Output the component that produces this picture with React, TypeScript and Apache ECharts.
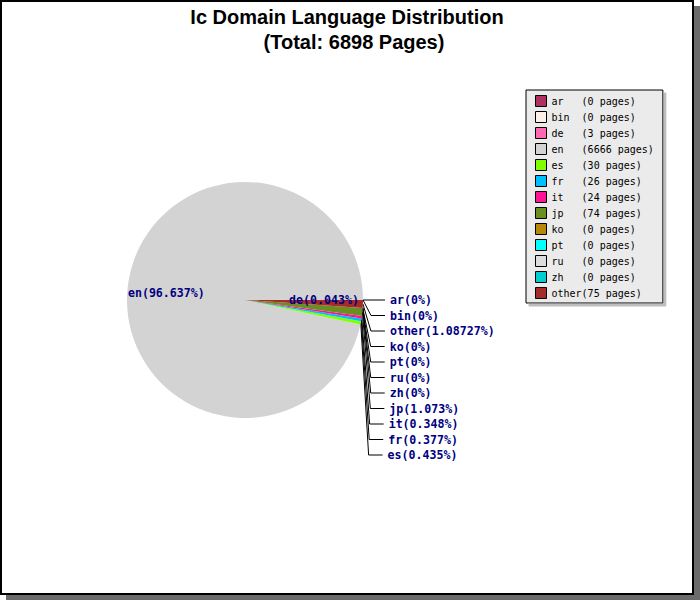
import React, { useEffect, useRef } from "react";
import * as echarts from "echarts";

const categories = ["ar", "bin", "de", "en", "es", "fr", "it", "jp", "ko", "pt", "ru", "zh", "other"];
const pages = [0, 0, 3, 6666, 30, 26, 24, 74, 0, 0, 0, 0, 75];
const percentLabels = ["0", "0", "0.043", "96.637", "0.435", "0.377", "0.348", "1.073", "0", "0", "0", "0", "1.08727"];
const colors = [
  "#b03060", "#fdf0e6", "#ff69b4", "#d3d3d3", "#7fff00", "#00bfff", "#ff1493",
  "#6b8e23", "#b8860b", "#00ffff", "#dcdcdc", "#00ced1", "#a52a2a",
];
const titleLine1 = "Ic Domain Language Distribution";
const titleLine2 = "(Total: 6898 Pages)";
const insideLabels = ["de", "en"];

export default function App() {
  const ref = useRef<HTMLDivElement>(null);
  useEffect(() => {
    document.body.style.margin = "0";
    const chart = echarts.init(ref.current!, null, { renderer: "svg" });
    const data = categories.map((name, i) => {
      const inside = insideLabels.includes(name);
      return {
        name,
        value: pages[i],
        itemStyle: { color: colors[i] },
        label: inside ? { position: "inside" } : undefined,
        labelLine: inside ? { show: false } : undefined,
      };
    });
    chart.setOption({
      animation: false,
      backgroundColor: "transparent",
      graphic: [
        { type: "rect", z: -10, shape: { x: 6, y: 6, width: 694, height: 594 }, style: { fill: "#6b6b6b" }, silent: true },
        { type: "rect", z: -9, shape: { x: 1, y: 1, width: 692, height: 593 }, style: { fill: "#fff", stroke: "#000", lineWidth: 2 }, silent: true },
      ],
      title: [
        {
          text: titleLine1, left: 342, top: 2, textAlign: "center",
          textStyle: { fontFamily: "Liberation Sans", fontWeight: "bold", fontSize: 20, color: "#000" },
        },
        {
          text: titleLine2, left: 349, top: 27, textAlign: "center",
          textStyle: { fontFamily: "Liberation Sans", fontWeight: "bold", fontSize: 20, color: "#000" },
        },
      ],
      legend: {
        orient: "vertical",
        left: 526,
        top: 90,
        padding: [5, 9, 4, 9],
        itemGap: 4,
        itemWidth: 11,
        itemHeight: 11,
        icon: "rect",
        itemStyle: { borderColor: "#000", borderWidth: 1 },
        backgroundColor: "#ebebeb",
        borderColor: "#000",
        borderWidth: 1,
        shadowColor: "#bdbdbd",
        shadowOffsetX: 3,
        shadowOffsetY: 3,
        shadowBlur: 0,
        textStyle: { fontFamily: "DejaVu Sans Mono", fontSize: 10, color: "#000" },
        formatter: (name: string) => {
          const i = categories.indexOf(name);
          return name.padEnd(5, "\u00a0") + "(" + pages[i] + " pages)";
        },
        data: categories,
      },
      series: [
        {
          type: "pie",
          center: [245, 300],
          radius: 118,
          startAngle: 0,
          clockwise: false,
          avoidLabelOverlap: true,
          label: {
            show: true,
            position: "outside",
            alignTo: "labelLine",
            fontFamily: "DejaVu Sans Mono",
            fontWeight: "bold",
            fontSize: 11.6,
            lineHeight: 13.5,
            color: "#000080",
            formatter: (p: any) => p.name + "(" + percentLabels[p.dataIndex] + "%)",
          },
          labelLine: {
            show: true,
            length: 8,
            length2: 14,
            lineStyle: { color: "#000", width: 1 },
          },
          labelLayout: (p: any) => {
            if (p.dataIndex === 3) return { dx: -17, dy: -1 };
            if (p.dataIndex === 2) return { dx: 17 };
            return {};
          },
          emphasis: { disabled: true },
          data,
        },
      ],
    });
    return () => chart.dispose();
  }, []);
  return <div ref={ref} style={{ width: 700, height: 600 }} />;
}
